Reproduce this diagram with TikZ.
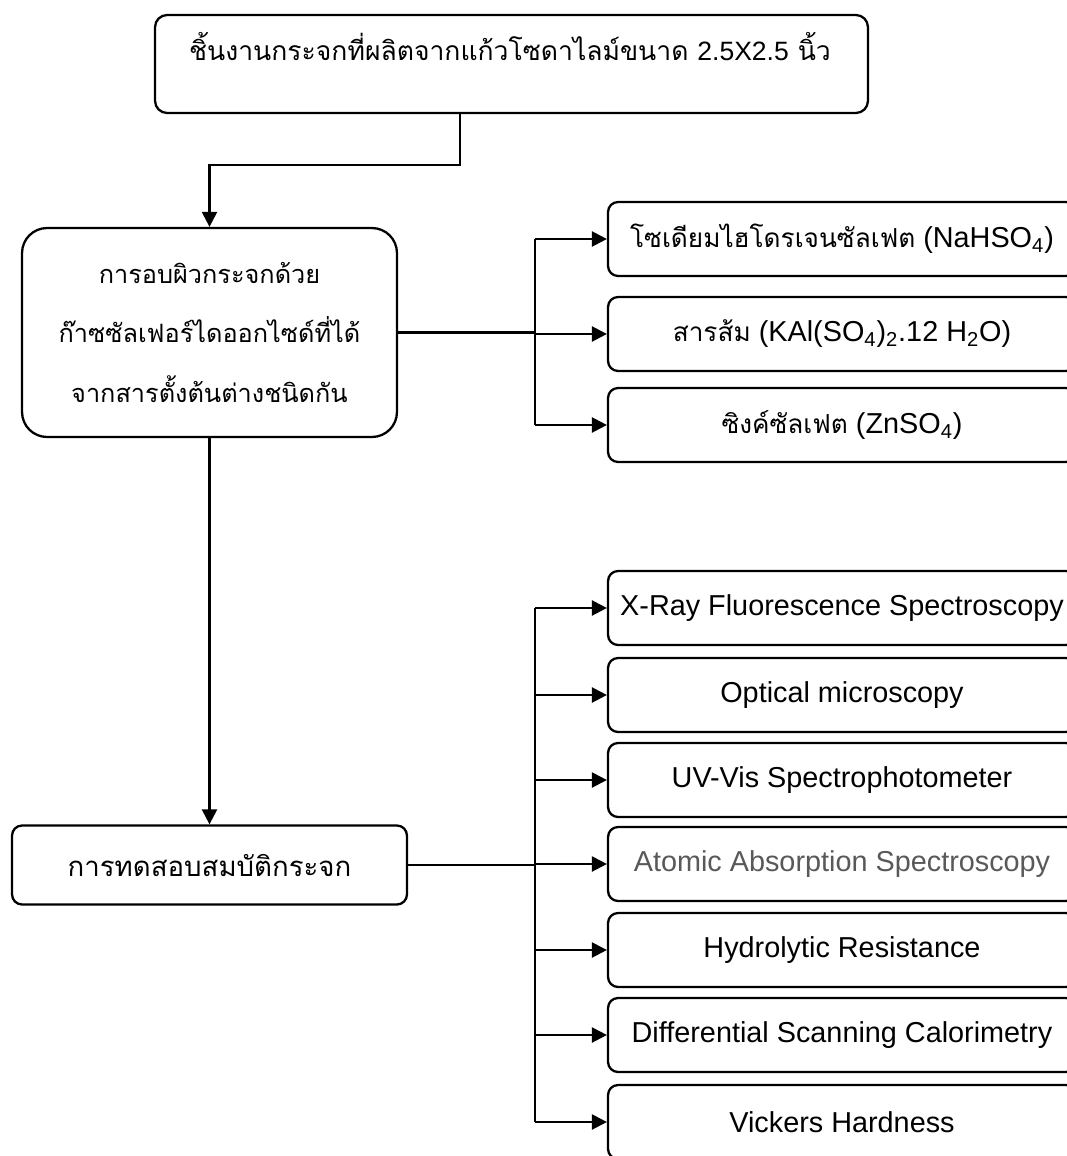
\documentclass[tikz,border=0pt]{standalone}
\usepackage{fontspec}
\setmainfont{Liberation Sans}
\newfontfamily\thaifont[Script=Thai]{Loma}
\usetikzlibrary{arrows.meta}
\definecolor{aasgrey}{HTML}{595959}

\begin{document}
\begin{tikzpicture}[x=0.02cm,y=-0.02cm,line width=1.3pt,>={Triangle[length=8.5pt,width=8.5pt]},
    box/.style={draw,rounded corners=0.2cm,minimum width=9.36cm,minimum height=1.48cm,inner sep=0pt,font=\fontsize{16.4}{19}\selectfont},
    thai/.style={font=\thaifont\fontsize{#1}{34}\selectfont,align=center},thai/.default=15]
  \useasboundingbox (0,0) rectangle (1067,1156);
  \clip (0,0) rectangle (1067,1156);
  \node[draw,rounded corners=0.24cm,minimum width=14.26cm,minimum height=1.96cm] (start) at (511.5,64) {};
  \node[thai=15.1] (starttxt) at (510,47) {ชิ้นงานกระจกที่ผลิตจากแก้วโซดาไลม์ขนาด {\rmfamily 2.5X2.5} นิ้ว};
  \node[draw,rounded corners=0.5cm,minimum width=7.5cm,minimum height=4.18cm,thai=14.4] (fume) at (209.5,332.5)
    {การอบผิวกระจกด้วย\\ก๊าซซัลเฟอร์ไดออกไซด์ที่ได้\\จากสารตั้งต้นต่างชนิดกัน};
  \node[draw,rounded corners=0.2cm,minimum width=7.9cm,minimum height=1.58cm,thai=15.7] (test) at (209.5,865) {การทดสอบสมบัติกระจก};
  \draw[->] ([xshift=-1.03cm]start.south) -- ++(0,51) -| (fume.north);
  \draw[->] (fume.south) -- (test.north);
  \coordinate (bus) at (535,0);
  \node[box] (chem1) at (842,239) {{\thaifont\fontsize{14.9}{19}\selectfont โซเดียมไฮโดรเจนซัลเฟต} (NaHSO\textsubscript{4})};
  \node[box] (chem2) at (842,334) {{\thaifont\fontsize{14.9}{19}\selectfont สารส้ม} (KAl(SO\textsubscript{4})\textsubscript{2}.12 H\textsubscript{2}O)};
  \node[box] (chem3) at (842,425) {{\thaifont\fontsize{14.9}{19}\selectfont ซิงค์ซัลเฟต} (ZnSO\textsubscript{4})};
  \draw (fume.east) -- (bus |- fume.east);
  \draw (bus |- chem1.west) -- (bus |- chem3.west);
  \foreach \i in {1,2,3}
    \draw[->] (bus |- chem\i.west) -- (chem\i.west);
  \foreach \i/\y/\c/\t in {1/608/black/X-Ray Fluorescence Spectroscopy,2/695/black/Optical microscopy,
      3/780/black/UV-Vis Spectrophotometer,4/864/aasgrey/Atomic Absorption Spectroscopy,
      5/950/black/Hydrolytic Resistance,6/1035/black/Differential Scanning Calorimetry,7/1122/black/Vickers Hardness}
    \node[box,text=\c] (meth\i) at (842,\y) {\t};
  \draw (test.east) -- (bus |- test.east);
  \draw (bus |- meth1.west) -- (bus |- meth7.west);
  \foreach \i in {1,...,7}
    \draw[->] (bus |- meth\i.west) -- (meth\i.west);
\end{tikzpicture}
\end{document}
